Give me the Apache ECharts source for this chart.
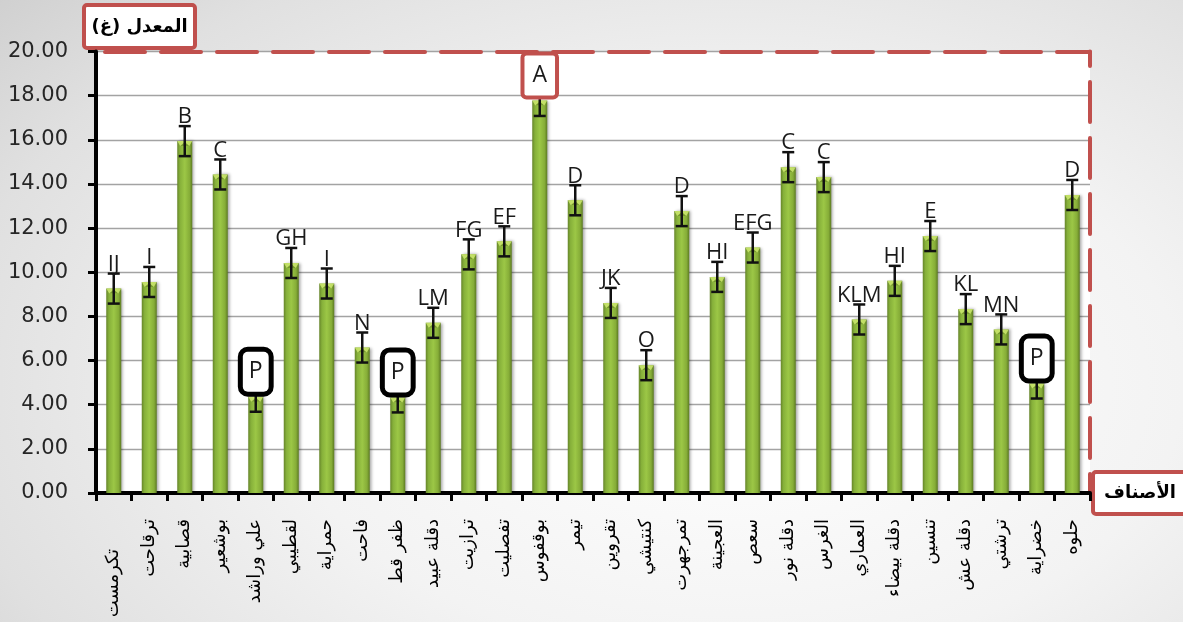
<!DOCTYPE html>
<html>
<head>
<meta charset="utf-8">
<script src="https://cdn.jsdelivr.net/npm/echarts@6/dist/echarts.min.js"></script>
<style>
  html, body { margin: 0; padding: 0; }
  body {
    width: 1183px; height: 622px; overflow: hidden;
    background: radial-gradient(ellipse 95% 110% at 62% 62%, #ffffff 0%, #f3f3f3 40%, #e0e0e0 70%, #c3c3c3 100%);
  }
  #chart { width: 1183px; height: 622px; }
</style>
</head>
<body>
<div id="chart"></div>
<script>
// Date-palm cultivars (الأصناف)
const categories = [
  'تكرمست', 'ترقاحت', 'قصابية', 'بوشعير', 'علي وراشد', 'لقطيبي', 'حمراية',
  'فاحت', 'ظفر قط', 'دقلة عبيد', 'ترازيت', 'تفصليت', 'بوقفوس', 'تيمر',
  'تقروين', 'كنتيشي', 'تمرجهرت', 'العجينة', 'سعص', 'دقلة نور', 'الغرس',
  'العماري', 'دقلة بيضاء', 'تنسين', 'دقلة عش', 'ترشتي', 'خضراية', 'حلوه'
];

// Mean value (g) per cultivar
const means = [
  9.26, 9.56, 15.94, 14.43, 4.36, 10.42, 9.49,
  6.59, 4.33, 7.71, 10.81, 11.40, 17.78, 13.26,
  8.61, 5.79, 12.77, 9.79, 11.12, 14.76, 14.31,
  7.86, 9.61, 11.64, 8.33, 7.41, 4.96, 13.50
];

// Standard error shown as error bars
const errors = [
  0.68, 0.68, 0.68, 0.68, 0.68, 0.68, 0.68,
  0.68, 0.68, 0.68, 0.68, 0.68, 0.70, 0.68,
  0.68, 0.68, 0.68, 0.68, 0.68, 0.68, 0.68,
  0.68, 0.68, 0.68, 0.68, 0.68, 0.68, 0.68
];

// Significance groups
const groups = [
  'IJ', 'I', 'B', 'C', 'P', 'GH', 'I',
  'N', 'P', 'LM', 'FG', 'EF', 'A', 'D',
  'JK', 'O', 'D', 'HI', 'EFG', 'C', 'C',
  'KLM', 'HI', 'E', 'KL', 'MN', 'P', 'D'
];

const yTicks = { min: 0, max: 20, interval: 2 };
const yTitle = 'المعدل (غ)\u200F';
const xTitle = 'الأصناف';

const BAR_W = 15;
const RED = '#c0504d';

const chart = echarts.init(document.getElementById('chart'), null, { renderer: 'canvas' });

const barGradient = new echarts.graphic.LinearGradient(0, 0, 1, 0, [
  { offset: 0, color: '#66852a' },
  { offset: 0.18, color: '#86b03a' },
  { offset: 0.5, color: '#9cc746' },
  { offset: 0.82, color: '#86ad38' },
  { offset: 1, color: '#5c7a22' }
]);

const errData = means.map((m, i) => [i, m, errors[i]]);
const boxStyles = {
  A: { borderColor: RED, borderWidth: 4, borderRadius: 2, padding: [6, 8, 6, 8] },
  P: { borderColor: '#000', borderWidth: 5, borderRadius: 5, padding: [6, 6, 6, 6] }
};

const labelFont = { fontFamily: 'DejaVu Sans', fontSize: 18, color: '#000' };

chart.setOption({
  animation: false,
  grid: {
    left: 96, right: 93, top: 51.5, bottom: 129,
    show: true, backgroundColor: '#ffffff', borderWidth: 0
  },
  xAxis: [
    {
      type: 'category',
      data: categories,
      position: 'bottom',
      axisLine: { lineStyle: { color: '#000', width: 4 } },
      axisTick: { show: true, length: 8, lineStyle: { color: '#000', width: 3 } },
      axisLabel: Object.assign({
        rotate: 90,
        interval: 0,
        margin: 26,
        formatter: (v, i) => (i === 0 ? '{lead|' + v + '}' : v),
        rich: { lead: Object.assign({ padding: [0, 30, 0, 0] }, labelFont) }
      }, labelFont)
    },
    {
      type: 'category',
      data: categories,
      position: 'top',
      axisLine: { onZero: false, lineStyle: { color: RED, width: 4, type: [40, 16], dashOffset: 47 } },
      axisTick: { show: false },
      axisLabel: { show: false }
    }
  ],
  yAxis: [
    {
      type: 'value',
      min: yTicks.min, max: yTicks.max, interval: yTicks.interval,
      axisLine: { show: true, lineStyle: { color: '#000', width: 4 } },
      axisTick: { show: true, length: 8, lineStyle: { color: '#000', width: 3 } },
      axisLabel: {
        margin: 28,
        color: '#262626',
        fontFamily: 'DejaVu Sans',
        fontSize: 21,
        formatter: v => v.toFixed(2)
      },
      splitLine: { lineStyle: { color: '#a3a3a3', width: 1.3 } }
    },
    {
      type: 'value',
      position: 'right',
      min: yTicks.min, max: yTicks.max, interval: yTicks.interval,
      axisLine: { show: true, onZero: false, lineStyle: { color: RED, width: 4, type: [40, 16], dashOffset: 21 } },
      axisTick: { show: false },
      axisLabel: { show: false },
      splitLine: { show: false }
    }
  ],
  series: [
    {
      type: 'bar',
      data: means,
      barWidth: BAR_W,
      itemStyle: {
        color: barGradient,
        shadowColor: 'rgba(0,0,0,0.35)',
        shadowBlur: 3,
        shadowOffsetX: 2,
        shadowOffsetY: 0
      },
      z: 2
    },
    {
      // bevel highlight, error bars and group letters
      type: 'custom',
      data: errData,
      z: 5,
      renderItem: (params, api) => {
        const i = api.value(0);
        const m = api.value(1);
        const e = api.value(2);
        const top = api.coord([i, m]);
        const hi = api.coord([i, m + e]);
        const lo = api.coord([i, m - e]);
        const cx = top[0];
        const x0 = cx - BAR_W / 2, x1 = cx + BAR_W / 2;
        const cap = 6;
        const g = groups[i];
        const box = boxStyles[g];
        const children = [
          {
            type: 'polygon',
            shape: { points: [[x0, top[1]], [x1, top[1]], [x1 - 3, top[1] + 5], [x0 + 3, top[1] + 5]] },
            style: { fill: 'rgba(205,232,110,0.85)' }
          },
          {
            type: 'polygon',
            shape: { points: [[x0 + 3, top[1] + 5], [x1 - 3, top[1] + 5], [cx, top[1] + 1]] },
            style: { fill: 'rgba(110,145,40,0.9)' }
          },
          {
            type: 'line',
            shape: { x1: cx, y1: hi[1], x2: cx, y2: lo[1] },
            style: { stroke: '#111', lineWidth: 2.5 }
          },
          {
            type: 'line',
            shape: { x1: cx - cap, y1: hi[1], x2: cx + cap, y2: hi[1] },
            style: { stroke: '#111', lineWidth: 2.5 }
          },
          {
            type: 'line',
            shape: { x1: cx - cap, y1: lo[1], x2: cx + cap, y2: lo[1] },
            style: { stroke: '#111', lineWidth: 2.5 }
          }
        ];
        if (box) {
          children.push({
            type: 'text',
            x: cx,
            y: top[1] - 5,
            z2: 10,
            style: Object.assign({
              text: g,
              fill: '#1a1a1a',
              fontFamily: 'Open Sans',
              fontSize: 23,
              lineHeight: 28,
              align: 'center',
              verticalAlign: 'bottom',
              backgroundColor: '#ffffff'
            }, box)
          });
        } else {
          children.push({
            type: 'text',
            x: cx,
            y: hi[1] + 3,
            style: {
              text: g,
              fill: '#1a1a1a',
              fontFamily: 'Open Sans',
              fontSize: 22,
              lineHeight: 24,
              align: 'center',
              verticalAlign: 'bottom'
            }
          });
        }
        return { type: 'group', children };
      }
    }
  ],
  graphic: [
    {
      type: 'group',
      left: 82, top: 3, z: 100,
      children: [
        {
          type: 'rect',
          shape: { x: 0, y: 0, width: 111, height: 43, r: 3 },
          style: { fill: '#ffffff', stroke: RED, lineWidth: 4 }
        },
        {
          type: 'text',
          x: 55.5, y: 22,
          style: {
            text: yTitle, fill: '#000', font: 'bold 18px "DejaVu Sans"',
            align: 'center', verticalAlign: 'middle'
          }
        }
      ]
    },
    {
      type: 'group',
      left: 1091, top: 470, z: 100,
      children: [
        {
          type: 'rect',
          shape: { x: 0, y: 0, width: 100, height: 42, r: 3 },
          style: { fill: '#ffffff', stroke: RED, lineWidth: 4 }
        },
        {
          type: 'text',
          x: 47, y: 21,
          style: {
            text: xTitle, fill: '#000', font: 'bold 18px "DejaVu Sans"',
            align: 'center', verticalAlign: 'middle'
          }
        }
      ]
    }
  ]
});
</script>
</body>
</html>
